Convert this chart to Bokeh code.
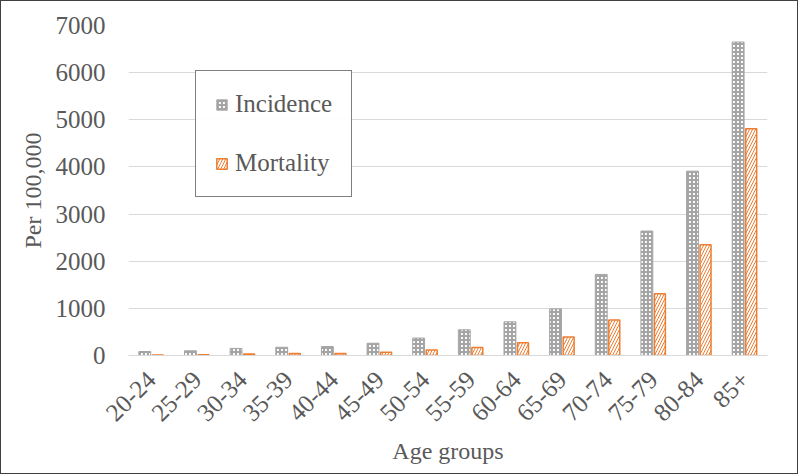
from bokeh.plotting import figure
from bokeh.models import Range1d, Legend, LegendItem, ColumnDataSource
from bokeh.transform import dodge
from bokeh.embed import file_html
from bokeh.resources import INLINE
import math

age_groups = ["20-24", "25-29", "30-34", "35-39", "40-44", "45-49", "50-54",
              "55-59", "60-64", "65-69", "70-74", "75-79", "80-84", "85+"]
incidence = [85, 100, 150, 175, 190, 260, 370, 545, 715, 990, 1720, 2640, 3910, 6650]
mortality = [10, 15, 30, 40, 45, 70, 115, 170, 270, 390, 755, 1310, 2350, 4810]
y_ticks = [0, 1000, 2000, 3000, 4000, 5000, 6000, 7000]

src = ColumnDataSource(dict(age=age_groups, inc=incidence, mort=mortality))

FONT = "'Liberation Serif', 'Times New Roman', serif"
TXT = "#595959"

p = figure(x_range=age_groups, y_range=Range1d(0, 7000), width=798, height=474,
           output_backend="svg", toolbar_location=None,
           min_border_left=127, min_border_right=32, min_border_top=24,
           min_border_bottom=120)
p.outline_line_color = None
p.styles = {"border": "1px solid #404040"}

r1 = p.vbar(x=dodge("age", -0.143, range=p.x_range), top="inc", width=0.26, source=src,
            fill_color="white", line_color="#a5a5a5", line_width=1,
            hatch_pattern="cross", hatch_color="#a5a5a5", hatch_scale=4, hatch_weight=2.2)
r2 = p.vbar(x=dodge("age", 0.143, range=p.x_range), top="mort", width=0.24, source=src,
            fill_color="white", line_color="#ed7d31", line_width=1.5,
            hatch_pattern="right_diagonal_line", hatch_color="#ed7d31", hatch_scale=6,
            hatch_weight=1)

p.xgrid.grid_line_color = None
p.ygrid.grid_line_color = "#d9d9d9"
p.ygrid.grid_line_width = 1
p.yaxis.ticker = y_ticks

p.yaxis.axis_line_color = None
p.yaxis.major_tick_line_color = None
p.yaxis.minor_tick_line_color = None
p.yaxis.major_label_standoff = 17
p.yaxis.axis_label = "Per 100,000"
p.yaxis.axis_label_standoff = 7

p.xaxis.axis_line_color = "#d9d9d9"
p.xaxis.major_tick_line_color = None
p.xaxis.minor_tick_line_color = None
p.xaxis.major_label_orientation = math.pi / 4
p.xaxis.major_label_standoff = 14
p.xaxis.axis_label = "Age groups"
p.xaxis.axis_label_standoff = 6

for ax in (p.xaxis, p.yaxis):
    ax.major_label_text_font = FONT
    ax.major_label_text_font_size = "25px"
    ax.major_label_text_color = TXT
    ax.axis_label_text_font = FONT
    ax.axis_label_text_font_size = "24px"
    ax.axis_label_text_color = TXT
    ax.axis_label_text_font_style = "normal"

legend = Legend(items=[LegendItem(label="Incidence", renderers=[r1]),
                       LegendItem(label="Mortality", renderers=[r2])],
                location=(67, 158))
legend.border_line_color = "black"
legend.border_line_width = 1.2
legend.label_text_font = FONT
legend.label_text_font_size = "25px"
legend.label_text_color = TXT
legend.glyph_width = 13
legend.glyph_height = 13
legend.label_standoff = 7
legend.padding = 19
legend.spacing = 31
legend.margin = 0
p.add_layout(legend, "center")

open("out.html", "w").write(file_html(p, INLINE))
